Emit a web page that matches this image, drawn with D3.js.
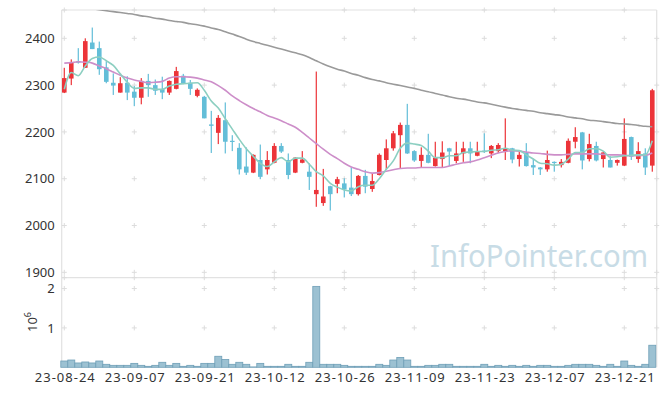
<!DOCTYPE html>
<html>
<head>
<meta charset="utf-8">
<script src="https://cdn.jsdelivr.net/npm/d3@7"></script>
<style>
  html, body { margin: 0; padding: 0; background: #fff; }
  svg { display: block; font-family: "Noto Sans", sans-serif; }
</style>
</head>
<body>
<div id="chart"></div>
<script>
// Trading days (YY-MM-DD)
const dates = [
  "23-08-24","23-08-25","23-08-28","23-08-29","23-08-30","23-08-31",
  "23-09-01","23-09-04","23-09-05","23-09-06","23-09-07","23-09-08","23-09-11","23-09-12","23-09-13","23-09-14","23-09-15","23-09-18","23-09-19","23-09-20","23-09-21","23-09-22","23-09-25","23-09-26","23-09-27",
  "23-10-04","23-10-05","23-10-06","23-10-10","23-10-11","23-10-12","23-10-13","23-10-16","23-10-17","23-10-18","23-10-19","23-10-20","23-10-23","23-10-24","23-10-25","23-10-26","23-10-27","23-10-30","23-10-31",
  "23-11-01","23-11-02","23-11-03","23-11-06","23-11-07","23-11-08","23-11-09","23-11-10","23-11-13","23-11-14","23-11-15","23-11-16","23-11-17","23-11-20","23-11-21","23-11-22","23-11-23","23-11-24","23-11-27","23-11-28","23-11-29","23-11-30",
  "23-12-01","23-12-04","23-12-05","23-12-06","23-12-07","23-12-08","23-12-11","23-12-12","23-12-13","23-12-14","23-12-15","23-12-18","23-12-19","23-12-20","23-12-21","23-12-22","23-12-26","23-12-27","23-12-28"
];

const open = [2284,2314,2351,2337,2391,2379,2338,2305,2284,2305, 2286,2273,2309,2300,2291,2284,2292,2320,2305,2277,
  2275,2216,2198,2225,2181,2166,2126,2113,2140,2120, 2134,2170,2140,2113,2134,2115,2067,2048,2084,2089,
  2090,2081,2067,2106,2078,2108,2140,2165,2193,2215, 2159,2138,2151,2127,2142,2165,2138,2154,2165,2149,
  2160,2154,2159,2158,2165,2142,2156,2129,2124,2120, 2136,2129,2134,2179,2199,2142,2170,2142,2140,2134,
  2128,2189,2142,2154,2128];
const high = [2337,2355,2379,2400,2423,2393,2351,2325,2317,2319, 2298,2315,2324,2312,2318,2310,2339,2324,2311,2293,
  2277,2245,2236,2263,2193,2176,2167,2152,2173,2159, 2176,2176,2154,2146,2159,2133,2329,2121,2085,2104,
  2101,2124,2108,2119,2112,2154,2184,2202,2220,2260, 2161,2167,2196,2179,2180,2166,2179,2179,2179,2179,
  2197,2172,2176,2229,2166,2160,2176,2142,2125,2160, 2137,2142,2186,2210,2200,2196,2179,2158,2148,2141,
  2229,2190,2178,2165,2292];
const low = [2283,2300,2346,2337,2377,2322,2304,2279,2284,2268, 2255,2259,2275,2279,2270,2279,2291,2302,2279,2274,
  2229,2155,2174,2154,2159,2109,2108,2112,2099,2109, 2133,2155,2099,2112,2133,2076,2040,2042,2032,2069,
  2060,2063,2064,2069,2072,2107,2119,2160,2122,2153, 2136,2124,2133,2126,2124,2127,2133,2136,2133,2148,
  2155,2144,2155,2140,2133,2126,2126,2108,2108,2115, 2115,2124,2133,2165,2120,2137,2137,2124,2124,2128,
  2127,2140,2134,2108,2115];
const close = [2315,2349,2348,2394,2377,2334,2307,2299,2304,2284, 2273,2309,2300,2288,2284,2309,2330,2304,2292,2290,
  2229,2213,2230,2179,2179,2120,2113,2151,2104,2140, 2170,2158,2108,2145,2141,2104,2076,2062,2067,2099,
  2077,2067,2106,2083,2095,2151,2165,2197,2215,2154, 2139,2151,2134,2145,2156,2158,2154,2165,2154,2159,
  2157,2170,2172,2165,2141,2151,2127,2124,2120,2140, 2134,2136,2181,2189,2139,2174,2139,2156,2124,2140,
  2185,2147,2159,2124,2289];

const volume = [160000,185000,110000,135000,110000,160000,76000,50000,50000,50000,
  100000,50000,25000,50000,127000,50000,100000,25000,50000,25000,
  100000,100000,280000,200000,76000,127000,76000,10000,100000,25000,
  25000,25000,76000,25000,25000,127000,2055000,76000,76000,76000,
  50000,25000,25000,25000,25000,76000,50000,185000,250000,185000,
  25000,25000,50000,50000,76000,76000,25000,25000,25000,25000,
  76000,25000,50000,25000,50000,25000,50000,25000,50000,50000,
  25000,25000,50000,76000,76000,76000,50000,25000,76000,25000,
  160000,50000,25000,76000,560000];

// moving averages
const ma5 = [2291,2327,2320,2341,2357,2360,2352,2342,2324,2306, 2293,2294,2294,2291,2291,2298,2302,2303,2304,2305,
  2289,2266,2251,2228,2206,2184,2164,2148,2133,2126, 2136,2145,2136,2144,2144,2131,2115,2106,2090,2082,
  2076,2074,2083,2086,2086,2100,2120,2138,2165,2176, 2174,2171,2159,2145,2145,2149,2149,2156,2157,2158,
  2158,2161,2162,2165,2161,2160,2151,2142,2133,2132, 2129,2131,2142,2156,2156,2164,2164,2159,2146,2147,
  2149,2150,2151,2151,2181];
const ma20 = [2347,2348,2350,2349,2347,2341,2335,2328,2321,2315, 2311,2308,2305,2306,2308,2315,2318,2318,2317,2315,
  2311,2307,2299,2289,2277,2267,2258,2250,2243,2235, 2230,2224,2217,2210,2199,2187,2175,2163,2152,2143,
  2133,2125,2120,2115,2112,2113,2116,2119,2122,2123, 2123,2124,2124,2124,2124,2127,2131,2134,2136,2140,
  2145,2150,2155,2158,2160,2159,2157,2155,2154,2152, 2151,2151,2152,2153,2153,2153,2153,2152,2151,2151,
  2150,2149,2149,2150,2155];
const ma60 = [2471,2469,2467,2465,2463,2461,2459,2457,2455,2453, 2451,2448,2446,2443,2441,2438,2436,2434,2431,2429,
  2426,2422,2419,2414,2409,2404,2398,2393,2389,2385, 2381,2377,2373,2369,2365,2359,2352,2345,2339,2334,
  2330,2325,2321,2316,2312,2309,2305,2302,2299,2296, 2293,2289,2286,2282,2279,2275,2272,2270,2267,2264,
  2262,2259,2256,2253,2250,2248,2246,2244,2241,2239, 2237,2235,2232,2230,2228,2225,2224,2222,2220,2218,
  2217,2216,2214,2212,2211];

const priceTicks = [1900, 2000, 2100, 2200, 2300, 2400];
const volTicks = [1000000, 2000000];
const dateTicks = [0, 10, 20, 30, 40, 50, 60, 70, 80];

const W = 665, H = 396;
const plotLeft = 61.7, plotRight = 656.7, plotTop = 10, priceBottom = 277.7, volBottom = 367.3;

const upColor = "#ec3439", downColor = "#63bed8";

const svg = d3.select("#chart").append("svg")
  .attr("width", W).attr("height", H);

const x = d3.scaleLinear().domain([-0.37, dates.length - 0.37]).range([plotLeft, plotRight]);
const y = d3.scaleLinear().domain([1888.5, 2460.5]).range([priceBottom, plotTop]);
const yv = d3.scaleLinear().domain([0, 2260000]).range([volBottom, priceBottom + 0.6]);

svg.append("clipPath").attr("id", "priceClip")
  .append("rect").attr("x", plotLeft).attr("y", plotTop)
  .attr("width", plotRight - plotLeft).attr("height", priceBottom - plotTop);

// frame
const frame = svg.append("g").attr("stroke", "#e2e2e2").attr("stroke-width", 1.2);
frame.append("line").attr("x1", plotLeft).attr("x2", plotLeft).attr("y1", plotTop).attr("y2", volBottom);
frame.append("line").attr("x1", plotRight).attr("x2", plotRight).attr("y1", plotTop).attr("y2", volBottom);
frame.append("line").attr("x1", plotLeft).attr("x2", plotRight).attr("y1", plotTop).attr("y2", plotTop);
frame.append("line").attr("x1", plotLeft).attr("x2", plotRight).attr("y1", priceBottom).attr("y2", priceBottom);

// little "+" grid marks
const crossPts = [];
dateTicks.forEach(i => {
  priceTicks.forEach(p => crossPts.push([x(i), y(p)]));
  volTicks.forEach(v => crossPts.push([x(i), yv(v)]));
  crossPts.push([x(i), plotTop]);
  crossPts.push([x(i), priceBottom]);
});
priceTicks.forEach(p => crossPts.push([plotRight, y(p)]));
volTicks.forEach(v => crossPts.push([plotRight, yv(v)]));
const cross = svg.append("g").attr("stroke", "#dcdcdc").attr("stroke-width", 1);
crossPts.forEach(([cx, cy]) => {
  cross.append("line").attr("x1", cx - 2.5).attr("x2", cx + 2.5).attr("y1", cy).attr("y2", cy);
  cross.append("line").attr("x1", cx).attr("x2", cx).attr("y1", cy - 2.5).attr("y2", cy + 2.5);
});

// watermark
svg.append("text")
  .attr("x", 648).attr("y", 267)
  .attr("text-anchor", "end")
  .attr("font-size", 30)
  .attr("fill", "#c8dce6")
  .attr("textLength", 218)
  .attr("lengthAdjust", "spacingAndGlyphs")
  .text("InfoPointer.com");

// candles
const idx = d3.range(dates.length);
const candles = svg.append("g").attr("clip-path", "url(#priceClip)");
const cg = candles.selectAll("g").data(idx).enter().append("g")
  .attr("fill", i => close[i] >= open[i] ? upColor : downColor);
cg.append("rect")
  .attr("x", i => x(i) - 0.6)
  .attr("width", 1.2)
  .attr("y", i => y(high[i]))
  .attr("height", i => Math.max(1, y(low[i]) - y(high[i])));
cg.append("rect")
  .attr("x", i => x(i) - 2.3)
  .attr("width", 4.6)
  .attr("y", i => y(Math.max(open[i], close[i])))
  .attr("height", i => Math.max(1.2, Math.abs(y(open[i]) - y(close[i]))));

// moving averages
const line = arr => d3.line().x((d, i) => x(i)).y(d => y(d)).curve(d3.curveMonotoneX)(arr);
const lines = svg.append("g").attr("clip-path", "url(#priceClip)").attr("fill", "none").attr("stroke-width", 1.6);
lines.append("path").attr("d", line(ma60)).attr("stroke", "#9a9a9a");
lines.append("path").attr("d", line(ma20)).attr("stroke", "#cd8ec9");
lines.append("path").attr("d", line(ma5)).attr("stroke", "#8ccfc1");

// volume
svg.append("g").selectAll("rect").data(idx).enter().append("rect")
  .attr("x", i => x(i) - 3.5)
  .attr("width", 7)
  .attr("y", i => yv(volume[i]))
  .attr("height", i => volBottom - yv(volume[i]))
  .attr("fill", "#9cc1d2")
  .attr("stroke", "#6f9fb7")
  .attr("stroke-width", 0.8);

// axes
const styleAxis = g => {
  g.select(".domain").remove();
  g.selectAll("text").attr("fill", "#333").attr("font-size", 13).attr("font-family", "Noto Sans, sans-serif");
};
svg.append("g").attr("transform", `translate(${plotLeft},0)`)
  .call(d3.axisLeft(y).tickValues(priceTicks).tickSize(0).tickPadding(7).tickFormat(d3.format("d")))
  .call(styleAxis);
svg.append("g").attr("transform", `translate(${plotLeft},0)`)
  .call(d3.axisLeft(yv).tickValues(volTicks).tickSize(0).tickPadding(7).tickFormat(d => d / 1e6))
  .call(styleAxis);
svg.append("g").attr("transform", `translate(0,${volBottom})`)
  .call(d3.axisBottom(x).tickValues(dateTicks).tickSize(0).tickPadding(5).tickFormat(i => dates[i]))
  .call(styleAxis)
  .selectAll("text").attr("textLength", 60).attr("lengthAdjust", "spacing");

// volume unit label 10^6
const unit = svg.append("text")
  .attr("transform", "translate(37,332) rotate(-90)")
  .attr("font-size", 13).attr("fill", "#333");
unit.append("tspan").text("10");
unit.append("tspan").attr("font-size", 9).attr("dy", -6).text("6");
</script>
</body>
</html>
